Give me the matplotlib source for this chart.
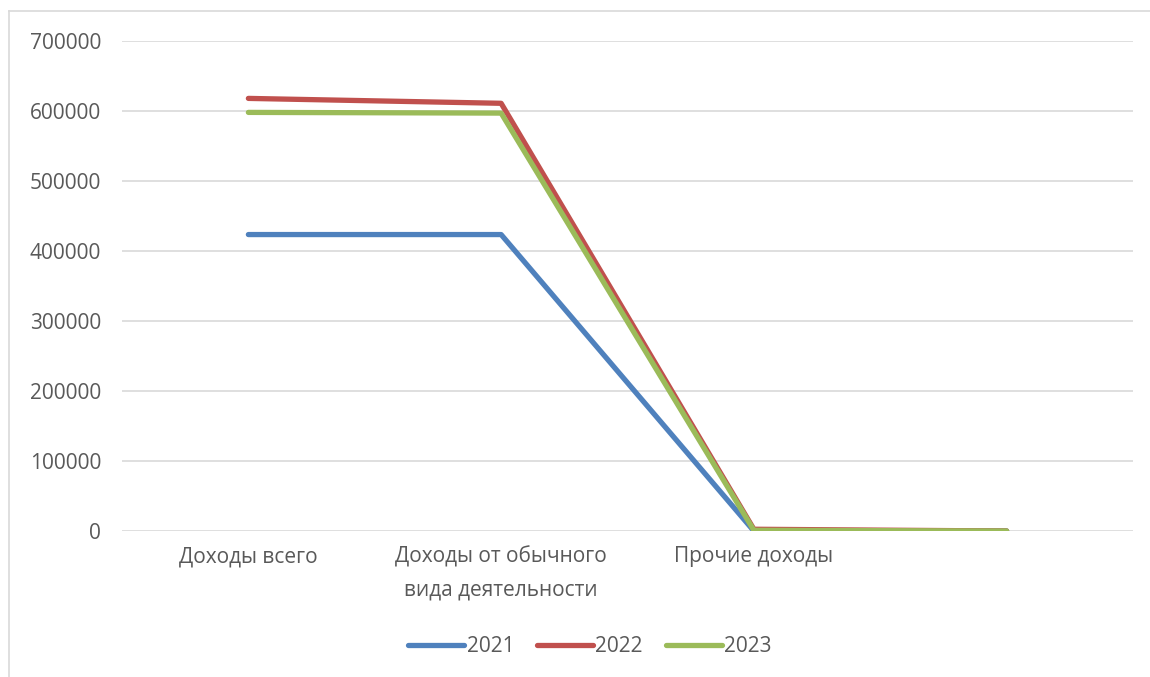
import matplotlib.pyplot as plt
from matplotlib.lines import Line2D

categories = ["Доходы всего", "Доходы от обычного\nвида деятельности", "Прочие доходы", ""]
years = ["2021", "2022", "2023"]
values_2021 = [423500, 423500, 0, 0]
values_2022 = [618000, 611000, 2500, 0]
values_2023 = [598000, 597000, 1000, 0]
y_ticks = [0, 100000, 200000, 300000, 400000, 500000, 600000, 700000]

colors = ["#4f81bd", "#c0504d", "#9bbb59"]
text_color = "#595959"
grid_color = "#d9d9d9"

plt.rcParams['font.family'] = ['Open Sans', 'DejaVu Sans']

fig = plt.figure(figsize=(11.5, 6.77), dpi=100)
ax = fig.add_axes([122 / 1150, 1 - 531 / 677, (1133 - 122) / 1150, (531 - 41) / 677])

x = list(range(len(categories)))
for vals, year, c in zip([values_2021, values_2022, values_2023], years, colors):
    ax.plot(x, vals, color=c, linewidth=3.8, solid_capstyle='round',
            solid_joinstyle='round', label=year)

ax.set_xlim(-0.5, len(categories) - 0.5)
ax.set_ylim(0, 700000)
ax.set_yticks(y_ticks)
ax.set_yticklabels([str(v) for v in y_ticks])
ax.set_xticks(x)
ax.set_xticklabels(categories, linespacing=1.75)
ax.grid(axis='y', color=grid_color, linewidth=1.2)
ax.set_axisbelow(True)
for s in ax.spines.values():
    s.set_visible(False)
ax.tick_params(axis='both', length=0, colors=text_color, labelsize=15)
ax.tick_params(axis='y', pad=15)
ax.tick_params(axis='x', pad=11)

leg = fig.legend(loc='center', bbox_to_anchor=(0.513, 1 - 647 / 677), ncol=3,
                 frameon=False, fontsize=15, handlelength=2.7, handletextpad=0.1,
                 columnspacing=1.1)
for t in leg.get_texts():
    t.set_color(text_color)

# chart area border (left and top edges only visible)
fig.add_artist(Line2D([9 / 1150, 9 / 1150], [0, 1 - 11 / 677], transform=fig.transFigure,
                      color=grid_color, linewidth=1.2))
fig.add_artist(Line2D([9 / 1150, 1], [1 - 11 / 677, 1 - 11 / 677], transform=fig.transFigure,
                      color=grid_color, linewidth=1.2))

fig.savefig("out.png", dpi=100)
